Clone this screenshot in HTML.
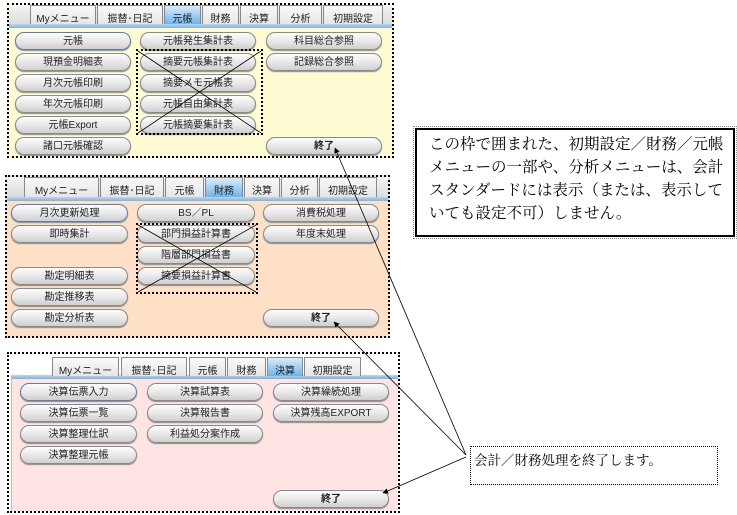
<!DOCTYPE html>
<html><head><meta charset="utf-8"><style>
body{margin:0;width:737px;height:515px;background:#fff;position:relative;overflow:hidden;font-family:"Liberation Sans","Noto Sans CJK JP",sans-serif}
.a{position:absolute;box-sizing:border-box}
.panel{border:2px dotted #000}
.tabbar{background:linear-gradient(#f4f4f4,#dcdcdc)}
.blue{background:linear-gradient(#b8d8f0,#7fb2de)}
.tab{position:absolute;top:0;height:100%;border:1px solid #888;border-bottom:none;background:linear-gradient(#fafafa,#e6e6e6);font-size:10px;text-align:center;box-sizing:border-box;padding-top:4px;color:#222}
.tab.on{background:linear-gradient(#d8ecfb,#6fb3ea);}
.btn{position:absolute;height:18px;border:1px solid #8a8a8a;border-radius:9px;background:linear-gradient(#fdfdfd,#e6e6e6 55%,#cfcfcf);font-size:10px;text-align:center;line-height:17px;box-sizing:border-box;color:#222;box-shadow:0 1px 1px #888}
.cross{position:absolute;border:2px dotted #000;box-sizing:border-box}
</style></head><body>

<!-- Panel 1 -->
<div class="a panel" style="left:7px;top:3px;width:387px;height:155px;background:#fffbd2"></div>
<div class="a tabbar" style="left:9px;top:5px;width:383px;height:19px"></div>
<div class="a blue" style="left:9px;top:24px;width:383px;height:4px"></div>
<div class="a" style="left:9px;top:5px;width:383px;height:19px">
<div class="tab" style="left:21px;width:66px">Myメニュー</div>
<div class="tab" style="left:88px;width:66px">振替･日記</div>
<div class="tab on" style="left:155px;width:37px">元帳</div>
<div class="tab" style="left:193px;width:37px">財務</div>
<div class="tab" style="left:231px;width:38px">決算</div>
<div class="tab" style="left:270px;width:43px">分析</div>
<div class="tab" style="left:314px;width:60px">初期設定</div>
</div>
<div class="btn" style="left:15px;top:32px;width:116px;border-color:#5a7fa8">元帳</div>
<div class="btn" style="left:15px;top:53px;width:116px">現預金明細表</div>
<div class="btn" style="left:15px;top:74px;width:116px">月次元帳印刷</div>
<div class="btn" style="left:15px;top:95px;width:116px">年次元帳印刷</div>
<div class="btn" style="left:15px;top:116px;width:116px">元帳Export</div>
<div class="btn" style="left:15px;top:137px;width:116px">諸口元帳確認</div>
<div class="btn" style="left:140px;top:32px;width:116px">元帳発生集計表</div>
<div class="btn" style="left:140px;top:53px;width:116px">摘要元帳集計表</div>
<div class="btn" style="left:140px;top:74px;width:116px">摘要メモ元帳表</div>
<div class="btn" style="left:140px;top:95px;width:116px">元帳自由集計表</div>
<div class="btn" style="left:140px;top:116px;width:116px">元帳摘要集計表</div>
<div class="btn" style="left:266px;top:32px;width:116px">科目総合参照</div>
<div class="btn" style="left:266px;top:53px;width:116px">記録総合参照</div>
<div class="btn" style="left:266px;top:137px;width:116px;font-weight:bold">終了</div>
<div class="cross" style="left:136px;top:49px;width:127px;height:86px"></div>

<!-- Panel 2 -->
<div class="a panel" style="left:5px;top:175px;width:385px;height:163px;background:#fde0c6"></div>
<div class="a tabbar" style="left:7px;top:177px;width:381px;height:20px"></div>
<div class="a blue" style="left:7px;top:197px;width:381px;height:4px"></div>
<div class="a" style="left:7px;top:177px;width:381px;height:20px">
<div class="tab" style="left:17px;width:75px">Myメニュー</div>
<div class="tab" style="left:93px;width:64px">振替･日記</div>
<div class="tab" style="left:158px;width:39px">元帳</div>
<div class="tab on" style="left:198px;width:38px">財務</div>
<div class="tab" style="left:237px;width:36px">決算</div>
<div class="tab" style="left:274px;width:37px">分析</div>
<div class="tab" style="left:312px;width:58px">初期設定</div>
</div>
<div class="btn" style="left:11px;top:204px;width:117px;border-color:#5a7fa8">月次更新処理</div>
<div class="btn" style="left:11px;top:225px;width:117px">即時集計</div>
<div class="btn" style="left:11px;top:267px;width:117px">勘定明細表</div>
<div class="btn" style="left:11px;top:288px;width:117px">勘定推移表</div>
<div class="btn" style="left:11px;top:309px;width:117px">勘定分析表</div>
<div class="btn" style="left:137px;top:204px;width:118px">BS／PL</div>
<div class="btn" style="left:137px;top:225px;width:118px">部門損益計算書</div>
<div class="btn" style="left:137px;top:246px;width:118px">階層部門損益書</div>
<div class="btn" style="left:137px;top:267px;width:118px">摘要損益計算書</div>
<div class="btn" style="left:263px;top:204px;width:116px">消費税処理</div>
<div class="btn" style="left:263px;top:225px;width:116px">年度末処理</div>
<div class="btn" style="left:263px;top:309px;width:116px;font-weight:bold">終了</div>
<div class="cross" style="left:136px;top:223px;width:122px;height:71px"></div>

<!-- Panel 3 -->
<div class="a panel" style="left:7px;top:352px;width:393px;height:161px;background:#fff"></div>
<div class="a" style="left:11px;top:376px;width:387px;height:135px;background:#ffe4e4;border-left:1px solid #bbb"></div>
<div class="a tabbar" style="left:11px;top:356px;width:387px;height:20px;background:#fff"></div>
<div class="a blue" style="left:11px;top:375px;width:387px;height:4px"></div>
<div class="a" style="left:11px;top:357px;width:387px;height:19px">
<div class="tab" style="left:41px;width:67px">Myメニュー</div>
<div class="tab" style="left:110px;width:66px">振替･日記</div>
<div class="tab" style="left:178px;width:37px">元帳</div>
<div class="tab" style="left:216px;width:39px">財務</div>
<div class="tab on" style="left:256px;width:36px">決算</div>
<div class="tab" style="left:293px;width:57px">初期設定</div>
</div>
<div class="btn" style="left:20px;top:383px;width:117px;border-color:#5a7fa8">決算伝票入力</div>
<div class="btn" style="left:20px;top:404px;width:117px">決算伝票一覧</div>
<div class="btn" style="left:20px;top:425px;width:117px">決算整理仕訳</div>
<div class="btn" style="left:20px;top:446px;width:117px">決算整理元帳</div>
<div class="btn" style="left:147px;top:383px;width:116px">決算試算表</div>
<div class="btn" style="left:147px;top:404px;width:116px">決算報告書</div>
<div class="btn" style="left:147px;top:425px;width:116px">利益処分案作成</div>
<div class="btn" style="left:273px;top:383px;width:116px">決算繰続処理</div>
<div class="btn" style="left:273px;top:404px;width:116px">決算残高EXPORT</div>
<div class="btn" style="left:273px;top:490px;width:116px;font-weight:bold">終了</div>

<!-- Notes -->
<div class="a" style="left:415px;top:128px;width:320px;height:109px;border:2px solid #000;outline:1px dotted #888;outline-offset:1px;padding:3px 0 0 12px;font-family:'Liberation Serif','Noto Serif CJK SC',serif;font-size:15.5px;line-height:23px;color:#000;white-space:nowrap">この枠で囲まれた、初期設定／財務／元帳<br>メニューの一部や、分析メニューは、会計<br>スタンダードには表示（または、表示して<br>いても設定不可）しません。</div>
<div class="a" style="left:470px;top:446px;width:248px;height:39px;border:1px dotted #000;padding:2px 0 0 3px;font-family:'Liberation Serif','Noto Serif CJK SC',serif;font-size:13.5px;color:#000">会計／財務処理を終了します。</div>

<svg class="a" style="left:0;top:0" width="737" height="515">
<defs><marker id="m" viewBox="0 0 10 10" refX="9" refY="5" markerWidth="9" markerHeight="7" orient="auto"><path d="M0,0L10,5L0,10z" fill="#000"/></marker></defs>
<g stroke="#000" stroke-width="0.8" fill="none">
<line x1="466" y1="455" x2="335" y2="148" marker-end="url(#m)"/>
<line x1="466" y1="455" x2="334" y2="322" marker-end="url(#m)"/>
<line x1="466" y1="457" x2="383" y2="493" marker-end="url(#m)"/>
<line x1="138" y1="51" x2="261" y2="133"/><line x1="261" y1="51" x2="138" y2="133"/>
<line x1="138" y1="225" x2="256" y2="292"/><line x1="256" y1="225" x2="138" y2="292"/>
</g></svg>
</body></html>
